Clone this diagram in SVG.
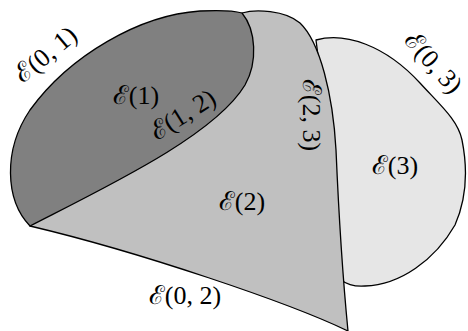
<svg xmlns="http://www.w3.org/2000/svg" width="468" height="331" viewBox="0 0 468 331">
<style>
.r{stroke:#000;stroke-width:1.3;stroke-linejoin:round}
.t{font-family:"Liberation Serif","DejaVu Serif",serif;font-size:26px;fill:#000;text-anchor:middle}
</style>
<rect width="468" height="331" fill="#fff"/>
<g id="region3">
<path class="r" fill="#e6e6e6" d="M 316 40 C 345 32 385 45 420 83 C 440 105 458 120 462 140 C 468 170 466 200 455 225 C 435 260 400 285 365 286 C 352 287 345 283 341 280 L 330 150 Z"/>
</g>
<g id="region2">
<path class="r" fill="#c0c0c0" d="M 242 13 C 255 9 285 10 300 23 C 320 42 333 95 336 150 C 339 220 343 280 348 331 C 290 303 140 252 30 226 L 150 100 Z"/>
</g>
<g id="region1">
<path class="r" fill="#808080" d="M 30 226 C 5 200 3 150 30 110 C 70 55 140 15 200 11 C 220 10 235 11 242 13 C 256 30 258 62 245 85 C 215 135 110 185 30 226 Z"/>
</g>
<g id="labels">
<text class="t" x="136" y="104">ℰ(1)</text>
<text class="t" transform="translate(46,55) rotate(-40)" y="8">ℰ(0, 1)</text>
<text class="t" transform="translate(183,115) rotate(-32)" y="8">ℰ(1, 2)</text>
<text class="t" transform="translate(311,115) rotate(90)" y="8">ℰ(2, 3)</text>
<text class="t" transform="translate(433,63) rotate(48)" y="8">ℰ(0, 3)</text>
<text class="t" x="395" y="174">ℰ(3)</text>
<text class="t" x="242" y="210">ℰ(2)</text>
<text class="t" x="185" y="304">ℰ(0, 2)</text>
</g>
</svg>
